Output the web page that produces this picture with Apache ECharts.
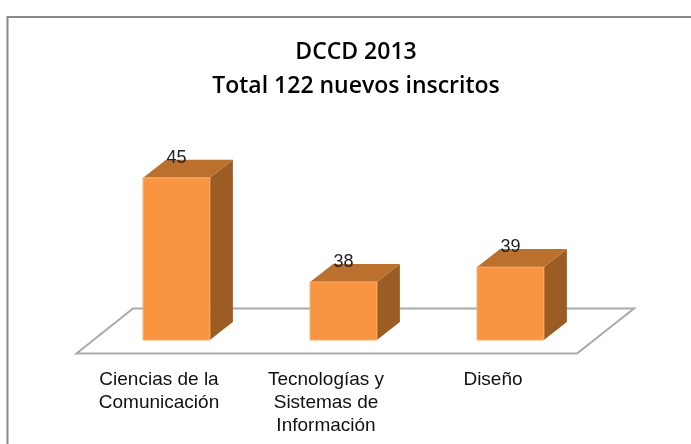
<!DOCTYPE html>
<html>
<head>
<meta charset="utf-8">
<script src="https://cdn.jsdelivr.net/npm/echarts@6/dist/echarts.min.js"></script>
<style>
html, body { margin: 0; padding: 0; background: #fff; }
#chart { width: 691px; height: 444px; }
</style>
</head>
<body>
<div id="chart"></div>
<script>
const categories = ['Ciencias de la\nComunicación', 'Tecnologías y\nSistemas de\nInformación', 'Diseño'];
const inscritos = [45, 38, 39];

const chart = echarts.init(document.getElementById('chart'), null, { renderer: 'canvas' });

// la profundidad de la columna en pixeles
const depthX = 23;
const depthY = 18;

function renderBar(params, api) {
  const base = api.coord([api.value(0), 34.1]);
  const top = api.coord([api.value(0), api.value(1)]);
  const w = api.size([1, 0])[0] * 0.4;
  const l = base[0] - w / 2;
  const r = base[0] + w / 2;
  const poly = (points, fill) => ({
    type: 'polygon',
    shape: { points },
    style: { fill }
  });
  return {
    type: 'group',
    children: [
      poly([[r, top[1]], [r + depthX, top[1] - depthY], [r + depthX, base[1] - depthY], [r, base[1]]], '#9c5d25'),
      poly([[l, top[1]], [l + depthX, top[1] - depthY], [r + depthX, top[1] - depthY], [r, top[1]]], '#bb702e'),
      {
        type: 'rect',
        shape: { x: l, y: top[1], width: w, height: base[1] - top[1] },
        style: { fill: '#f99541', stroke: '#fbab68', lineWidth: 1 }
      },
      {
        type: 'text',
        style: {
          text: String(api.value(1)),
          x: base[0],
          y: top[1] - 20,
          align: 'center',
          verticalAlign: 'middle',
          fontFamily: 'Liberation Sans',
          fontSize: 18,
          fill: '#222'
        }
      }
    ]
  };
}

const option = {
  animation: false,
  title: {
    text: 'DCCD 2013\nTotal 122 nuevos inscritos',
    left: 351,
    top: 30,
    textAlign: 'center',
    textStyle: {
      fontFamily: 'Open Sans',
      fontSize: 23,
      fontWeight: 600,
      color: '#000',
      lineHeight: 34
    }
  },
  grid: { left: 93, width: 501, top: 163, height: 177 },
  xAxis: {
    type: 'category',
    data: categories,
    axisLine: { show: false },
    axisTick: { show: false },
    axisLabel: {
      interval: 0,
      margin: 28,
      fontFamily: 'Liberation Sans',
      fontSize: 19,
      lineHeight: 23,
      color: '#111',
      align: 'center',
      padding: [0, 35, 0, 0]
    }
  },
  yAxis: { type: 'value', min: 34.1, max: 46, show: false },
  series: [
    {
      type: 'custom',
      renderItem: renderBar,
      encode: { x: 0, y: 1 },
      data: inscritos.map((v, i) => [i, v]),
      z: 3
    }
  ],
  graphic: [
    { type: 'rect', z: -1, shape: { x: 7.5, y: 17, width: 700, height: 440 }, style: { fill: '#fff', stroke: '#888', lineWidth: 2 } },
    { type: 'polygon', z: 0, shape: { points: [[76.5, 353.5], [133, 308.5], [634, 308.5], [577, 353.5]] }, style: { fill: '#fff', stroke: '#aaa', lineWidth: 2 } }
  ]
};

chart.setOption(option);
</script>
</body>
</html>
